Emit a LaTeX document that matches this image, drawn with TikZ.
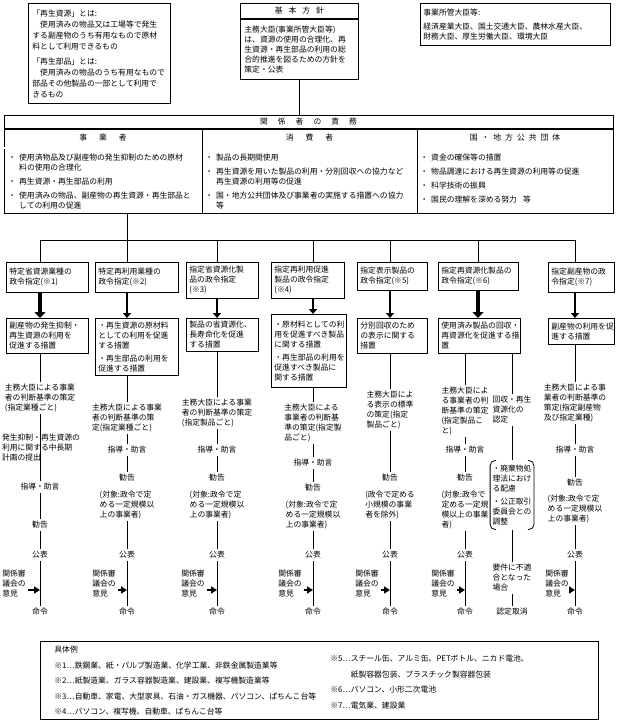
\documentclass[tikz,border=0pt]{standalone}
\usepackage{fontspec}
\setmainfont{Noto Sans CJK JP}
\usetikzlibrary{arrows.meta}

\begin{document}
\begin{tikzpicture}
    [x=1pt, y=-1pt, line width=0.8pt,
    font=\fontsize{7.8}{10}\selectfont,
    box/.style={draw, anchor=north west, align=left, inner xsep=3pt, inner ysep=2pt},
    note/.style={align=left, inner sep=2pt},
    arr/.style={-{Triangle[length=5pt, width=8pt]}, line width=1.5pt},
    bigarr/.style={-{Triangle[length=6pt, width=11pt]}, line width=4pt},
    side/.style={-{Triangle[length=6pt, width=7pt]}, line width=2pt}]
    \useasboundingbox (0,0) rectangle (627,722);
    % \draw[help lines, step=50] (0,0) grid (627,722);
    \node[box, text width=134pt, minimum height=100pt, inner xsep=4pt, font=\fontsize{7.8}{11}\selectfont] (DEF) at (28,3) {「再生資源」とは:\\
      　使用済みの物品又は工場等で発生\\
      する副産物のうち有用なもので原材\\
      料として利用できるもの\\[4pt]
      「再生部品」とは:\\
      　使用済みの物品のうち有用なもので\\
      部品その他製品の一部として利用で\\
      きるもの};
    \node[draw, anchor=north west, minimum width=118pt, minimum height=15pt] (KH) at (240,3) {基\hspace{6pt}本\hspace{6pt}方\hspace{6pt}針};
    \node[box, text width=110pt, minimum height=60pt, inner xsep=4pt] (KB) at (KH.south west) {主務大臣(事業所管大臣等)\\は、資源の使用の合理化、再\\生資源・再生部品の利用の総\\合的推進を図るための方針を\\策定・公表};
    \node[box, text width=184pt, minimum height=42pt] (MIN) at (420,3) {事業所管大臣等:\\[4pt]経済産業大臣、国土交通大臣、農林水産大臣、\\財務大臣、厚生労働大臣、環境大臣};
    %
    \node[draw, anchor=north west, minimum width=609pt, minimum height=98pt] (TB) at (4,115) {};
    \node (TT) at (308.5,122) {関\hspace{10pt}係\hspace{10pt}者\hspace{10pt}の\hspace{10pt}責\hspace{10pt}務};
    \draw[line width=1.6pt] (4,129) -- (613,129);
    \draw[double, double distance=1.2pt, line width=0.6pt] (4,148) -- (613,148);
    \draw (202,129) -- (202,213);
    \draw (417,129) -- (417,213);
    \node (TH1) at (103,138) {事\hspace{12pt}業\hspace{12pt}者};
    \node (TH2) at (309.5,138) {消\hspace{12pt}費\hspace{12pt}者};
    \node (TH3) at (515,138) {国\hspace{4pt}・\hspace{4pt}地\hspace{4pt}方\hspace{4pt}公\hspace{4pt}共\hspace{4pt}団\hspace{4pt}体};
    \node[note, anchor=north west] (TC1) at (6,152) {・\hspace{3pt}使用済物品及び副産物の発生抑制のための原材\\\hspace*{10.8pt}料の使用の合理化\\[4pt]・\hspace{3pt}再生資源・再生部品の利用\\[4pt]・\hspace{3pt}使用済みの物品、副産物の再生資源・再生部品と\\\hspace*{10.8pt}しての利用の促進};
    \node[note, anchor=north west] (TC2) at (203,152) {・\hspace{3pt}製品の長期間使用\\[4pt]・\hspace{3pt}再生資源を用いた製品の利用・分別回収への協力など\\\hspace*{10.8pt}再生資源の利用等の促進\\[4pt]・\hspace{3pt}国・地方公共団体及び事業者の実施する措置への協力\\\hspace*{10.8pt}等};
    \node[note, anchor=north west] (TC3) at (418,152) {・\hspace{3pt}資金の確保等の措置\\[4pt]・\hspace{3pt}物品調達における再生資源の利用等の促進\\[4pt]・\hspace{3pt}科学技術の振興\\[4pt]・\hspace{3pt}国民の理解を深める努力\hspace{6pt}等};
    \draw (KB.south) -- (KB.south |- TB.north);
    %
    \coordinate (x1) at (40,240);
    \coordinate (x2) at (127,240);
    \coordinate (x3) at (217,240);
    \coordinate (x4) at (313,240);
    \coordinate (x5) at (390,240);
    \coordinate (x6) at (478,240);
    \coordinate (x7) at (575,240);
    \node[box, text width=76pt, minimum height=30pt] (B1) at (6,262) {特定省資源業種の\\政令指定(※1)};
    \node[box, text width=77pt, minimum height=30pt] (B2) at (95,262) {特定再利用業種の\\政令指定(※2)};
    \node[box, text width=66pt, minimum height=36pt] (B3) at (186,262) {指定省資源化製\\品の政令指定\\(※3)};
    \node[box, text width=67pt, minimum height=36pt] (B4) at (271,262) {指定再利用促進\\製品の政令指定\\(※4)};
    \node[box, text width=64pt, minimum height=28pt] (B5) at (357,262) {指定表示製品の\\政令指定(※5)};
    \node[box, text width=74pt, minimum height=28pt] (B6) at (438,262) {指定再資源化製品の\\政令指定(※6)};
    \node[box, text width=60pt, minimum height=30pt] (B7) at (548,262) {指定副産物の政\\令指定(※7)};
    %
    \node[box, text width=76pt, minimum height=35pt] (C1) at (6,318) {副産物の発生抑制・\\再生資源の利用を\\促進する措置};
    \node[box, text width=77pt, minimum height=57pt] (C2) at (95,318) {・再生資源の原材料\\としての利用を促進\\する措置\\[3pt]・再生部品の利用を\\促進する措置};
    \node[box, text width=66pt, minimum height=33pt] (C3) at (186,318) {製品の省資源化、\\長寿命化を促進\\する措置};
    \node[box, text width=69pt, minimum height=73pt] (C4) at (271,314) {・原材料としての利\\用を促進すべき製品\\に関する措置\\[3pt]・再生部品の利用を\\促進すべき製品に\\関する措置};
    \node[box, text width=64pt, minimum height=35pt] (C5) at (357,318) {分別回収のため\\の表示に関する\\措置};
    \node[box, text width=76pt, minimum height=35pt] (C6) at (438,318) {使用済み製品の回収・\\再資源化を促進する措\\置};
    \node[box, text width=60pt, minimum height=26pt] (C7) at (548,318) {副産物の利用を促\\進する措置};
    %
    \draw (x1) -- (x7);
    \draw (x2 |- TB.south) -- (x2 |- B2.north);
    \draw (x1) -- (x1 |- B1.north);
    \draw (x3) -- (x3 |- B3.north);
    \draw (x4) -- (x4 |- B4.north);
    \draw (x5) -- (x5 |- B5.north);
    \draw (x6) -- (x6 |- B6.north);
    \draw (x7) -- (x7 |- B7.north);
    \draw[bigarr] (x1 |- B1.south) -- (x1 |- C1.north);
    \draw[arr] (x2 |- B2.south) -- (x2 |- C2.north);
    \draw[arr] (x3 |- B3.south) -- (x3 |- C3.north);
    \draw[arr] (x4 |- B4.south) -- (x4 |- C4.north);
    \draw[arr] (x5 |- B5.south) -- (x5 |- C5.north);
    \draw[bigarr] (x6 |- B6.south) -- (x6 |- C6.north);
    \draw[arr] (x7 |- B7.south) -- (x7 |- C7.north);
    % column 1
    \node[note] (J1) at (40,398) {主務大臣による事業\\者の判断基準の策定\\(指定業種ごと)};
    \node[note] (P1) at (41,448) {発生抑制・再生資源の\\利用に関する中長期\\計画の提出};
    \node[note] (G1) at (40,487) {指導・助言};
    \node[note] (K1) at (40,525) {勧告};
    \node[note] (S1) at (40,555) {公表};
    \node[note] (R1) at (14,584) {関係審\\議会の\\意見};
    \node[note] (O1) at (40,612) {命令};
    \draw (x1 |- C1.south) -- (J1);
    \draw (J1) -- (P1 -| J1);
    \draw (P1 -| G1) -- (G1);
    \draw (G1) -- (K1);
    \draw (K1) -- (S1);
    \draw (S1) -- (O1);
    \draw[side] ([yshift=-6pt]R1.east) -- ([yshift=-6pt]R1.east -| S1);
    % column 2
    \node[note] (J2) at (127,418) {主務大臣による事業\\者の判断基準の策\\定(指定業種ごと)};
    \node[note] (G2) at (127,450) {指導・助言};
    \node[note] (K2) at (127,478) {勧告};
    \node[note] (T2) at (127,505) {(対象:政令で定\\める一定規模以\\上の事業者)};
    \node[note] (S2) at (127,555) {公表};
    \node[note] (R2) at (104,584) {関係審\\議会の\\意見};
    \node[note] (O2) at (127,612) {命令};
    \draw (x2 |- C2.south) -- (J2);
    \draw (J2) -- (G2);
    \draw (G2) -- (K2);
    \draw (T2) -- (S2);
    \draw (S2) -- (O2);
    \draw[side] ([yshift=-6pt]R2.east) -- ([yshift=-6pt]R2.east -| S2);
    % column 3
    \node[note] (J3) at (217,413) {主務大臣による事業\\者の判断基準の策定\\(指定製品ごと)};
    \node[note] (G3) at (217,450) {指導・助言};
    \node[note] (K3) at (217,478) {勧告};
    \node[note] (T3) at (217,505) {(対象:政令で定\\める一定規模以\\上の事業者)};
    \node[note] (S3) at (217,555) {公表};
    \node[note] (R3) at (193,584) {関係審\\議会の\\意見};
    \node[note] (O3) at (217,612) {命令};
    \draw (x3 |- C3.south) -- (J3);
    \draw (J3) -- (G3);
    \draw (G3) -- (K3);
    \draw (T3) -- (S3);
    \draw (S3) -- (O3);
    \draw[side] ([yshift=-6pt]R3.east) -- ([yshift=-6pt]R3.east -| S3);
    % column 4
    \node[note] (J4) at (313,423) {主務大臣による\\事業者の判断基\\準の策定(指定製\\品ごと)};
    \node[note] (G4) at (313,463) {指導・助言};
    \node[note] (K4) at (313,488) {勧告};
    \node[note] (T4) at (313,515) {(対象:政令で定\\める一定規模以\\上の事業者)};
    \node[note] (S4) at (313,555) {公表};
    \node[note] (R4) at (290,584) {関係審\\議会の\\意見};
    \node[note] (O4) at (313,612) {命令};
    \draw (x4 |- C4.south) -- (J4);
    \draw (J4) -- (G4);
    \draw (G4) -- (K4);
    \draw (T4) -- (S4);
    \draw (S4) -- (O4);
    \draw[side] ([yshift=-6pt]R4.east) -- ([yshift=-6pt]R4.east -| S4);
    % column 5
    \node[note] (J5) at (390,410) {主務大臣によ\\る表示の標準\\の策定(指定\\製品ごと)};
    \node[note] (K5) at (390,478) {勧告};
    \node[note] (T5) at (390,505) {(政令で定める\\小規模の事業\\者を除外)};
    \node[note] (S5) at (390,555) {公表};
    \node[note] (R5) at (367,584) {関係審\\議会の\\意見};
    \node[note] (O5) at (390,612) {命令};
    \draw (x5 |- C5.south) -- (J5);
    \draw (J5) -- (K5);
    \draw (T5) -- (S5);
    \draw (S5) -- (O5);
    \draw[side] ([yshift=-6pt]R5.east) -- ([yshift=-6pt]R5.east -| S5);
    % column 6
    \node[note] (J6) at (465,411) {主務大臣によ\\る事業者の判\\断基準の策定\\(指定製品こ\\と)};
    \node[note] (G6) at (465,450) {指導・助言};
    \node[note] (K6) at (465,478) {勧告};
    \node[note] (T6) at (465,510) {(対象:政令で\\定める一定規\\模以上の事業\\者)};
    \node[note] (S6) at (465,555) {公表};
    \node[note] (R6) at (443,584) {関係審\\議会の\\意見};
    \node[note] (O6) at (465,612) {命令};
    \draw (J6 |- C6.south) -- (J6);
    \draw (J6) -- (G6);
    \draw (G6) -- (K6);
    \draw (T6) -- (S6);
    \draw (S6) -- (O6);
    \draw[side] ([yshift=-6pt]R6.east) -- ([yshift=-6pt]R6.east -| S6);
    %
    \node[note] (N6) at (512,410) {回収・再生\\資源化の\\認定};
    \node[note, inner ysep=4pt] (Q6) at (512,495) {・廃棄物処\\理法におけ\\る配慮\\[3pt]・公正取引\\委員会との\\調整};
    \node[note] (U6) at (512,578) {要件に不適\\合となった\\場合};
    \node[note] (V6) at (512,612) {認定取消};
    \draw[rounded corners=5pt] ([xshift=6pt]Q6.north west) -- (Q6.north west) -- (Q6.south west) -- ([xshift=6pt]Q6.south west);
    \draw[rounded corners=5pt] ([xshift=-6pt]Q6.north east) -- (Q6.north east) -- (Q6.south east) -- ([xshift=-6pt]Q6.south east);
    \draw (N6 |- C6.south) -- (N6);
    \draw (N6) -- (Q6);
    \draw (Q6) -- (U6);
    \draw (U6) -- (V6);
    % column 7
    \node[note] (J7) at (575,403) {主務大臣による事\\業者の判断基準の\\策定(指定副産物\\及び指定業種)};
    \node[note] (G7) at (575,450) {指導・助言};
    \node[note] (K7) at (575,483) {勧告};
    \node[note] (T7) at (575,509) {(対象:政令で定\\める一定規模以\\上の事業者)};
    \node[note] (S7) at (575,555) {公表};
    \node[note] (R7) at (557,584) {関係審\\議会の\\意見};
    \node[note] (O7) at (575,612) {命令};
    \draw (x7 |- C7.south) -- (J7);
    \draw (J7) -- (G7);
    \draw (G7) -- (K7);
    \draw (T7) -- (S7);
    \draw (S7) -- (O7);
    \draw[side] ([yshift=-6pt]R7.east) -- ([yshift=-6pt]R7.east -| S7);
    %
    \node[draw, anchor=north west, minimum width=558pt, minimum height=78pt] (EX) at (40,641) {};
    \node[note, anchor=north west, font=\fontsize{7.8}{15.5}\selectfont] (EX1) at (52,644) {具体例\\※1…鉄鋼業、紙・パルプ製造業、化学工業、非鉄金属製造業等\\※2…紙製造業、ガラス容器製造業、建設業、複写機製造業等\\※3…自動車、家電、大型家具、石油・ガス機器、パソコン、ぱちんこ台等\\※4…パソコン、複写機、自動車、ぱちんこ台等};
    \node[note, anchor=north west, font=\fontsize{7.8}{15.5}\selectfont] (EX2) at (328,644) {\mbox{}\\※5…スチール缶、アルミ缶、PETボトル、ニカド電池、\\\phantom{※5…}紙製容器包装、プラスチック製容器包装\\※6…パソコン、小形二次電池\\※7…電気業、建設業};
\end{tikzpicture}
\end{document}
